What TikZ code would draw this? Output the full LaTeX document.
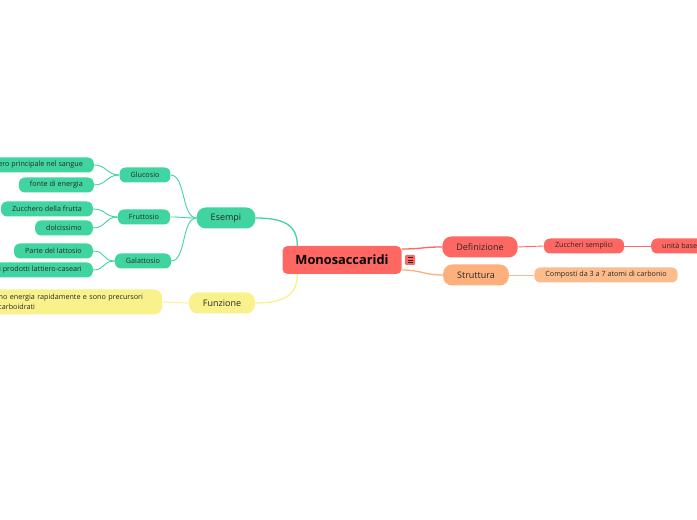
\documentclass[tikz,border=0pt]{standalone}
\usepackage{fontspec}
\setmainfont{Open Sans}
\definecolor{mmred}{RGB}{255,104,98}
\definecolor{mmorange}{RGB}{253,176,124}
\definecolor{mmorangelt}{RGB}{253,188,140}
\definecolor{mmgreen}{RGB}{64,213,160}
\definecolor{mmyellow}{RGB}{249,242,140}
\definecolor{mmtext}{RGB}{40,40,40}

\begin{document}
\begin{tikzpicture}[x=1pt, y=1pt,
        rootbox/.style={fill=mmred, rounded corners=5pt, minimum width=119pt, minimum height=28pt, text=black, font=\bfseries\fontsize{12.8}{15}\selectfont},
        mainbox/.style={rounded corners=9pt, minimum height=21pt, inner xsep=14pt, inner ysep=0pt, text=mmtext, font=\fontsize{9}{11}\selectfont},
        subbox/.style={rounded corners=6pt, minimum height=15pt, inner xsep=11pt, inner ysep=0pt, text=mmtext, font=\fontsize{7.2}{9}\selectfont},
        link/.style={line width=1.3pt},
        sublink/.style={line width=0.9pt}]
        \useasboundingbox (0,0) rectangle (697,520);
        \clip (0,0) rectangle (697,520);
        \fill[white] (0,0) rectangle (697,520);

        % Draw nodes
        \node[rootbox] (mono) at (342,260) {Monosaccaridi};
        \node[fill=mmred, rounded corners=1pt, minimum size=10pt, inner sep=0pt] (icon) at (410,260) {};

        \node[mainbox, fill=mmred] (definizione) at (480,273) {Definizione};
        \node[subbox, fill=mmred] (zuccheri) at (584,274) {Zuccheri semplici};
        \node[subbox, fill=mmred, anchor=west] (unita) at (651,274) {unità base};

        \node[mainbox, fill=mmorange] (struttura) at (476,245) {Struttura};
        \node[subbox, fill=mmorangelt] (composti) at (606,245) {Composti da 3 a 7 atomi di carbonio};

        \node[mainbox, fill=mmgreen] (esempi) at (226,302) {Esempi};
        \node[subbox, fill=mmgreen] (glucosio) at (145,345) {Glucosio};
        \node[subbox, fill=mmgreen] (fruttosio) at (144,303) {Fruttosio};
        \node[subbox, fill=mmgreen] (galattosio) at (143,259) {Galattosio};

        \node[subbox, fill=mmgreen, anchor=east] (sangue) at (94,355) {Zucchero principale nel sangue};
        \node[subbox, fill=mmgreen, anchor=east] (fonte) at (94,335) {fonte di energia};
        \node[subbox, fill=mmgreen, anchor=east] (frutta) at (93,311) {Zucchero della frutta};
        \node[subbox, fill=mmgreen, anchor=east] (dolcissimo) at (93,292) {dolcissimo};
        \node[subbox, fill=mmgreen, anchor=east] (lattosio) at (93,269) {Parte del lattosio};
        \node[subbox, fill=mmgreen, anchor=east] (caseari) at (93,250) {Presente nei prodotti lattiero-caseari};

        \node[mainbox, fill=mmyellow] (funzione) at (222,217) {Funzione};
        \node[subbox, fill=mmyellow, rounded corners=8pt, minimum height=25pt, anchor=west, text width=181pt, align=left, font=\fontsize{7.2}{10}\selectfont] (funztext) at (-41,218) {Forniscono energia rapidamente e sono precursori\\di molti carboidrati};

        % Icon lines
        \foreach \dy in {-2.5,0,2.5}
            \draw[mmtext, line width=0.6pt] ([xshift=-2.5pt, yshift=\dy pt]icon.center) -- ++(5,0);

        % Draw connections
        \draw[link, mmred] ([yshift=11pt]mono.east) .. controls +(20,0) and +(-20,0) .. (definizione.west);
        \draw[link, mmorange] ([yshift=-10pt]mono.east) .. controls +(20,0) and +(-20,0) .. (struttura.west);
        \draw[link, mmgreen] ([xshift=15pt]mono.north west) .. controls +(0,20) and +(30,0) .. (esempi.east);
        \draw[link, mmyellow] ([xshift=15pt]mono.south west) .. controls +(0,-20) and +(30,0) .. (funzione.east);

        \draw[sublink, mmred] (definizione.east) -- (zuccheri.west);
        \draw[sublink, mmred] (zuccheri.east) -- (unita.west);
        \draw[sublink, mmorangelt] (struttura.east) -- (composti.west);
        \draw[sublink, mmyellow] (funzione.west) -- (funztext.east);

        \foreach \child in {glucosio, fruttosio, galattosio}
            \draw[sublink, mmgreen] (esempi.west) .. controls +(-15,0) and +(15,0) .. (\child.east);
        \foreach \parent/\child in {glucosio/sangue, glucosio/fonte, fruttosio/frutta, fruttosio/dolcissimo, galattosio/lattosio, galattosio/caseari}
            \draw[sublink, mmgreen] (\parent.west) .. controls +(-13,0) and +(13,0) .. (\child.east);
    \end{tikzpicture}
\end{document}
